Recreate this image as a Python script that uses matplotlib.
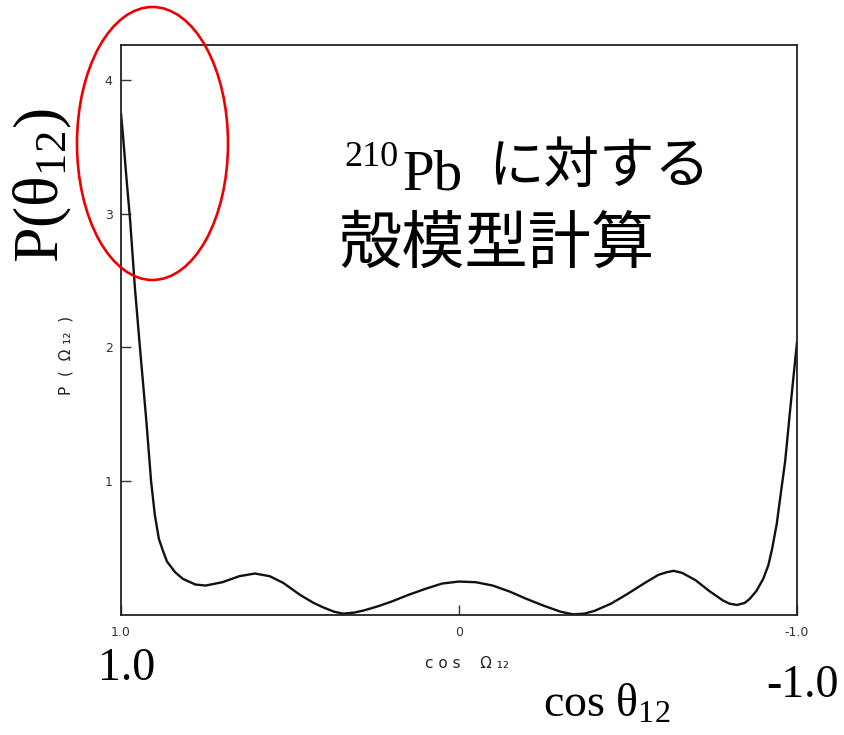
import matplotlib
matplotlib.use("Agg")
import matplotlib.pyplot as plt
from matplotlib.patches import Ellipse

plt.rcParams['mathtext.fontset'] = 'custom'
plt.rcParams['mathtext.rm'] = 'Liberation Serif'
plt.rcParams['mathtext.it'] = 'Liberation Serif'
plt.rcParams['mathtext.default'] = 'rm'

# angular correlation P(Omega_12) vs cos(Omega_12)
cos_omega = [1.0, 0.993, 0.985, 0.973, 0.959, 0.944, 0.925, 0.911, 0.90, 0.888,
             0.876, 0.864, 0.84, 0.817, 0.78, 0.75, 0.70, 0.65, 0.604, 0.56,
             0.52, 0.47, 0.43, 0.40, 0.37, 0.343, 0.31, 0.28, 0.24, 0.20,
             0.15, 0.10, 0.05, 0.0, -0.05, -0.10, -0.15, -0.20, -0.25,
             -0.30, -0.337, -0.37, -0.40, -0.45, -0.50, -0.55, -0.59, -0.615,
             -0.635, -0.66, -0.70, -0.74, -0.78, -0.80, -0.822, -0.845, -0.86,
             -0.88, -0.90, -0.915, -0.926, -0.94, -0.95, -0.965, -0.98, -1.0]
p_omega = [3.75, 3.55, 3.3, 2.95, 2.45, 2.0, 1.45, 1.0, 0.75, 0.57,
           0.48, 0.40, 0.32, 0.27, 0.228, 0.22, 0.245, 0.29, 0.31, 0.29,
           0.24, 0.15, 0.09, 0.055, 0.025, 0.01, 0.018, 0.035, 0.065, 0.10,
           0.15, 0.195, 0.235, 0.25, 0.245, 0.22, 0.175, 0.12, 0.07,
           0.025, 0.005, 0.01, 0.03, 0.085, 0.16, 0.24, 0.30, 0.32,
           0.33, 0.315, 0.26, 0.18, 0.11, 0.085, 0.075, 0.09, 0.12,
           0.18, 0.27, 0.37, 0.49, 0.68, 0.87, 1.15, 1.54, 2.04]

y_ticks = [1, 2, 3, 4]
x_ticks = [1.0, 0.0, -1.0]
x_ticklabels = ["1.0", "0", "-1.0"]

W, H = 844, 735
fig = plt.figure(figsize=(W / 100, H / 100), dpi=100)

def fx(px):
    return px / W

def fy(py):
    return 1 - py / H

ax = fig.add_axes([fx(121), fy(615), fx(797) - fx(121), fy(45) - fy(615)])
ax.plot(cos_omega, p_omega, color="#111111", lw=1.7,
        solid_joinstyle="round", solid_capstyle="round")
ax.set_xlim(1.0, -1.0)
ax.set_ylim(0, 4.26)
for s in ax.spines.values():
    s.set_color("#222222")
    s.set_linewidth(1.3)

ax.set_yticks(y_ticks)
ax.set_yticklabels([str(t) for t in y_ticks], fontsize=9, color="#333333")
ax.set_xticks(x_ticks)
ax.set_xticklabels(x_ticklabels, fontsize=9, color="#333333")
ax.tick_params(axis="y", direction="in", length=7, width=1.0, pad=6, color="#333333")
ax.tick_params(axis="x", direction="in", length=7, width=1.0, pad=8, color="#333333")

# original small axis titles
fig.text(fx(467), fy(664), "c o s    Ω ₁₂", fontsize=11, color="#222222",
         ha="center", va="center")
fig.text(fx(66), fy(355), "P  (  Ω ₁₂  )", fontsize=11, color="#222222",
         ha="center", va="center", rotation=90)

serif = "Liberation Serif"
fig.text(fx(43), fy(186), r"P(θ$_{12}$)", fontsize=46, family=serif,
         ha="center", va="center", rotation=90)
fig.text(fx(127), fy(669), "1.0", fontsize=33, family=serif,
         ha="center", va="center")
fig.text(fx(802), fy(686), "-1.0", fontsize=33, family=serif,
         ha="center", va="center")
fig.text(fx(607), fy(705), r"cos θ$_{12}$", fontsize=33, family=serif,
         ha="center", va="center")

# annotation text
fig.text(fx(371), fy(157), "210", fontsize=26, family=serif,
         ha="center", va="center")
fig.text(fx(402), fy(190), "Pb", fontsize=41, family=serif,
         ha="left", va="baseline")
fig.text(fx(488), fy(167), "に対する", fontsize=40,
         family=["Noto Sans CJK JP", "DejaVu Sans"], ha="left", va="center")
fig.text(fx(338), fy(245), "殻模型計算", fontsize=45.5,
         family=["Noto Sans CJK JP", "DejaVu Sans"], ha="left", va="center")

ell = Ellipse((fx(152.5), fy(143.5)), fx(151), 273 / H, fill=False,
              edgecolor="#ee0000", lw=1.9, transform=fig.transFigure)
fig.patches.append(ell)

fig.savefig("out.png", dpi=100)
